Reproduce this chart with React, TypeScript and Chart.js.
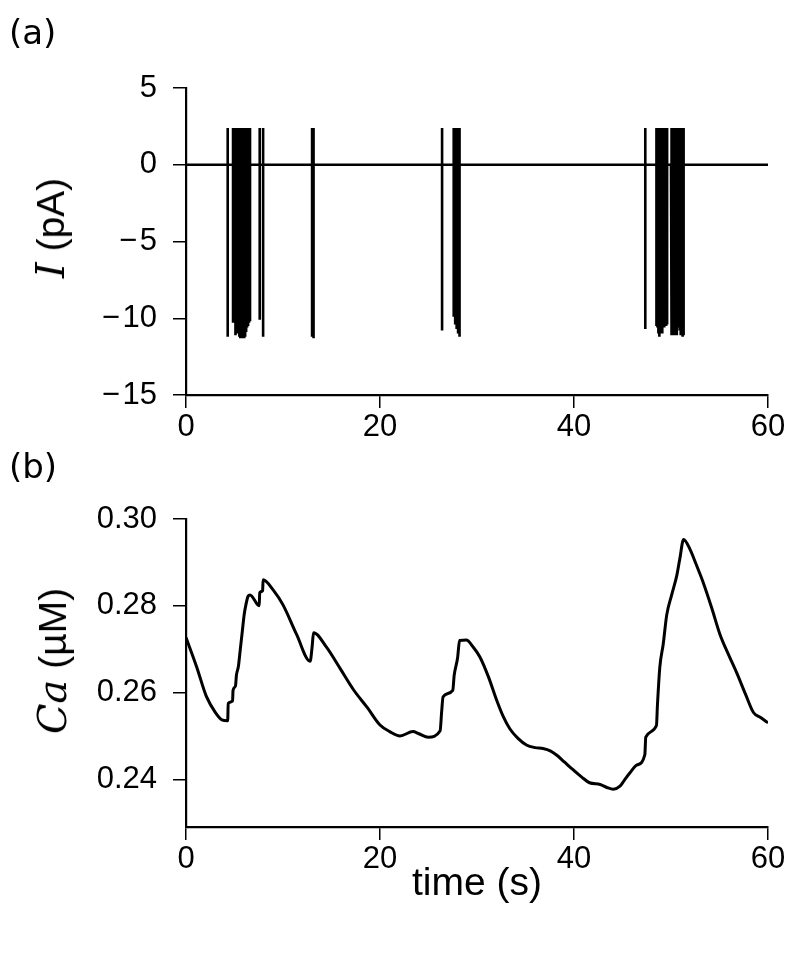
import React, { useEffect, useRef } from "react";
import { Chart, registerables } from "chart.js";
Chart.register(...registerables);

// ---- Data ----
// Panel (a): channel current spikes (time in s, lowest value in pA)
const spikeHigh = 2.4;
const spikeTimes = [
  4.3, 4.85, 5.1, 5.2, 5.4, 5.5, 5.6, 5.7, 5.8, 5.9, 6.0, 6.1, 6.2, 6.3, 6.4, 6.5, 6.6, 7.6, 7.95,
  13.0, 13.15,
  26.4, 27.6, 27.75, 27.9, 28.05, 28.2,
  47.35,
  48.5, 48.6, 48.7, 48.8, 48.9, 49.0, 49.1, 49.2, 49.3, 49.4, 49.5, 49.6,
  50.0, 50.1, 50.2, 50.3, 50.4, 50.5, 50.6, 50.7, 50.8, 50.9, 51.0, 51.1, 51.2, 51.3,
];
const spikeLows = [
  -11.2, -10.3, -11.1, -11.0, -11.0, -11.2, -11.3, -11.1, -11.3, -11.2, -11.3, -11.2, -10.9, -10.6, -10.5, -10.3, -10.2, -10.1, -11.2,
  -11.2, -11.3,
  -10.8, -9.9, -10.4, -10.7, -11.0, -11.2,
  -10.7,
  -10.5, -10.6, -11.0, -11.2, -11.0, -10.9, -11.0, -10.5, -10.6, -10.4, -10.5, -10.4,
  -11.1, -11.0, -11.1, -10.9, -11.1, -11.0, -11.1, -10.6, -10.5, -10.8, -11.1, -11.0, -11.2, -11.1,
];
const currentTicks = [-15, -10, -5, 0, 5];
const timeTicks = [0, 20, 40, 60];

// Panel (b): calcium concentration (µM)
const caTimes = [
  0, 1.1, 2.1, 3.0, 3.7, 4.3, 4.35, 4.8, 4.85, 5.1, 5.2, 5.4, 5.6, 5.8, 6.0, 6.2, 6.4, 6.6,
  7.55, 7.6, 7.9, 7.95, 9.0, 10.0, 11.4, 12.8, 13.0, 13.15, 14.5, 15.9, 17.25, 18.7, 20.0, 21.0,
  22.06, 23.4, 24.0, 24.98, 26.2, 26.35, 26.5, 27.5, 27.65, 28.0, 28.2, 28.9, 29.6, 30.3, 31.2,
  32.0, 32.7, 33.4, 34.2, 35.1, 36.0, 36.8, 37.6, 38.2, 39.0, 39.9, 40.8, 41.6, 42.7, 43.4, 44.05,
  44.74, 45.2, 45.77, 46.5, 47.3, 47.4, 48.5, 48.6, 48.85, 49.2, 49.56, 50.07, 50.6, 50.9, 51.3,
  51.96, 52.6, 53.3, 54.2, 55.05, 56.0, 56.8, 57.7, 58.5, 59.2, 60.0,
];
const caValues = [
  0.2727, 0.2659, 0.2591, 0.2555, 0.2537, 0.2535, 0.2575, 0.258, 0.2605, 0.2615, 0.264, 0.266, 0.27, 0.274, 0.278, 0.2805, 0.2822, 0.2825,
  0.28, 0.283, 0.2835, 0.286, 0.2836, 0.2802, 0.2734, 0.2672, 0.2705, 0.2738, 0.2704, 0.2655, 0.2607, 0.2565, 0.2525, 0.251,
  0.25, 0.251, 0.2505, 0.2497, 0.2512, 0.2554, 0.259, 0.2605, 0.264, 0.268, 0.272, 0.2721, 0.2705, 0.2682, 0.2635,
  0.2584, 0.2545, 0.2516, 0.2495, 0.2479, 0.2473, 0.2471, 0.2465, 0.2456, 0.244, 0.2422, 0.2405, 0.2392, 0.2388, 0.2381, 0.2377,
  0.2384, 0.2398, 0.2415, 0.2433, 0.2456, 0.2497, 0.2524, 0.257, 0.2659, 0.2712, 0.2779, 0.2825, 0.287, 0.2907, 0.2953,
  0.293, 0.2895, 0.2855, 0.2795, 0.2734, 0.2684, 0.2644, 0.2595, 0.2554, 0.2543, 0.253,
];
const caTicks = [0.24, 0.26, 0.28, 0.3];

const SANS = "'Liberation Sans', Arial, Helvetica, sans-serif";
const SERIF_IT = "'DejaVu Serif', 'Liberation Serif', serif";
const TICK_SIZE = 31;
const TITLE_SIZE = 39;

function fmtNum(v: number, digits: number) {
  const s = Math.abs(v).toFixed(digits);
  return v < 0 ? "\u2212\u200A" + s : s;
}

function makeScales(opts: {
  xTicks: number[];
  yTicks: number[];
  yMin: number;
  yMax: number;
  yDigits: number;
  xAxisHeight: number;
}) {
  const common = {
    border: { display: true, color: "#000", width: 2.2 },
    grid: {
      drawOnChartArea: false,
      drawTicks: true,
      tickLength: 13,
      color: "#000",
      lineWidth: 1.5,
    },
  };
  return {
    x: {
      type: "linear" as const,
      min: 0,
      max: 60,
      ...common,
      afterBuildTicks: (s: any) => {
        s.ticks = opts.xTicks.map((v) => ({ value: v }));
      },
      afterFit: (s: any) => {
        s.height = opts.xAxisHeight;
      },
      ticks: {
        autoSkip: false,
        maxRotation: 0,
        color: "#000",
        padding: 1,
        font: { family: SANS, size: TICK_SIZE },
        callback: (v: any) => fmtNum(Number(v), 0),
      },
    },
    y: {
      type: "linear" as const,
      min: opts.yMin,
      max: opts.yMax,
      ...common,
      afterBuildTicks: (s: any) => {
        s.ticks = opts.yTicks.map((v) => ({ value: v }));
      },
      afterFit: (s: any) => {
        s.width = 186;
      },
      ticks: {
        autoSkip: false,
        color: "#000",
        padding: 16,
        font: { family: SANS, size: TICK_SIZE },
        callback: (v: any) => fmtNum(Number(v), opts.yDigits),
      },
    },
  };
}

function CurrentChart() {
  const ref = useRef<HTMLCanvasElement | null>(null);
  useEffect(() => {
    if (!ref.current) return;
    const pts: { x: number; y: number }[] = [{ x: 0, y: 0 }];
    spikeTimes.forEach((t, i) => {
      pts.push({ x: t, y: 0 });
      pts.push({ x: t, y: spikeHigh });
      pts.push({ x: t, y: spikeLows[i] });
      pts.push({ x: t, y: 0 });
    });
    pts.push({ x: 60, y: 0 });
    const chart = new Chart(ref.current, {
      type: "line",
      data: {
        datasets: [
          {
            data: pts,
            borderColor: "#000",
            borderWidth: 2.6,
            pointRadius: 0,
            tension: 0,
            borderJoinStyle: "bevel",
            borderCapStyle: "butt",
          },
        ],
      },
      options: {
        animation: false,
        responsive: false,
        devicePixelRatio: 1,
        parsing: false,
        normalized: true,
        layout: { padding: { top: 40, right: 32, bottom: 0, left: 0 } },
        plugins: { legend: { display: false }, tooltip: { enabled: false } },
        scales: makeScales({
          xTicks: timeTicks,
          yTicks: currentTicks,
          yMin: -15,
          yMax: 5,
          yDigits: 0,
          xAxisHeight: 45,
        }) as any,
      },
    });
    return () => chart.destroy();
  }, []);
  return (
    <canvas
      ref={ref}
      width={800}
      height={392}
      style={{ position: "absolute", left: 0, top: 48, width: 800, height: 392 }}
    />
  );
}

function CaChart() {
  const ref = useRef<HTMLCanvasElement | null>(null);
  useEffect(() => {
    if (!ref.current) return;
    const pts = caTimes.map((t, i) => ({ x: t, y: caValues[i] }));
    const chart = new Chart(ref.current, {
      type: "line",
      data: {
        datasets: [
          {
            data: pts,
            borderColor: "#000",
            borderWidth: 3,
            pointRadius: 0,
            cubicInterpolationMode: "monotone",
            borderJoinStyle: "round",
          },
        ],
      },
      options: {
        animation: false,
        responsive: false,
        devicePixelRatio: 1,
        parsing: false,
        layout: { padding: { top: 39, right: 32, bottom: 0, left: 0 } },
        plugins: { legend: { display: false }, tooltip: { enabled: false } },
        scales: makeScales({
          xTicks: timeTicks,
          yTicks: caTicks,
          yMin: 0.229,
          yMax: 0.3,
          yDigits: 2,
          xAxisHeight: 53,
        }) as any,
      },
    });
    return () => chart.destroy();
  }, []);
  return (
    <canvas
      ref={ref}
      width={800}
      height={400}
      style={{ position: "absolute", left: 0, top: 480, width: 800, height: 400 }}
    />
  );
}

const textBase: React.CSSProperties = {
  position: "absolute",
  fontFamily: SANS,
  fontSize: TITLE_SIZE,
  lineHeight: 1,
  whiteSpace: "nowrap",
  color: "#000",
};

const panelLetter: React.CSSProperties = {
  ...textBase,
  fontFamily: "'DejaVu Sans', sans-serif",
  fontSize: 34,
};

const italicPart: React.CSSProperties = {
  fontFamily: SERIF_IT,
  fontStyle: "italic",
  fontSize: 40,
};

export default function App() {
  return (
    <div
      style={{
        position: "absolute",
        left: 0,
        top: 0,
        width: 800,
        height: 959,
        background: "#fff",
        overflow: "hidden",
      }}
    >
      <CurrentChart />
      <CaChart />
      <div style={{ ...panelLetter, left: 9, top: 15 }}>(a)</div>
      <div style={{ ...panelLetter, left: 9, top: 449 }}>(b)</div>
      <div
        style={{
          ...textBase,
          left: 50,
          top: 228,
          transform: "translate(-50%, -50%) rotate(-90deg)",
        }}
      >
        <span style={italicPart}>I</span> (pA)
      </div>
      <div
        style={{
          ...textBase,
          left: 52,
          top: 661,
          transform: "translate(-50%, -50%) rotate(-90deg)",
        }}
      >
        <span style={italicPart}>Ca</span> (µM)
      </div>
      <div
        style={{
          ...textBase,
          left: 477,
          top: 881,
          transform: "translate(-50%, -50%)",
        }}
      >
        time (s)
      </div>
    </div>
  );
}
